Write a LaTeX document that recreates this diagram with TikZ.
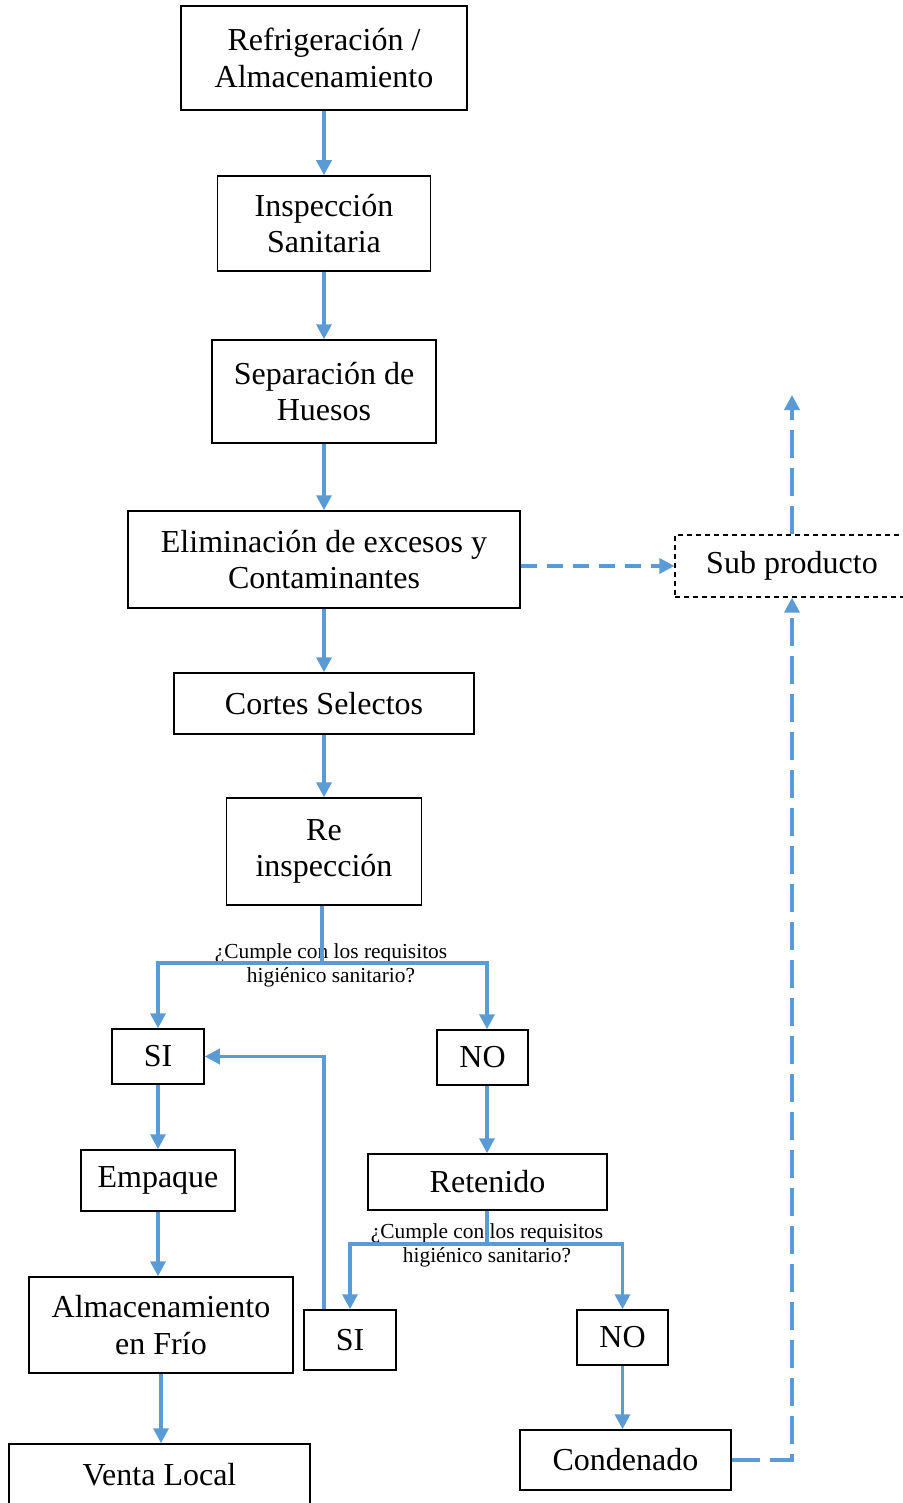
\documentclass[tikz,border=0pt]{standalone}
\usepackage{fontspec}
\setmainfont{Liberation Serif}
\usepackage{tikz}
\usetikzlibrary{arrows.meta,calc}
\definecolor{flowblue}{RGB}{91,155,213}
\tikzset{
  stagebox/.style={draw=black, line width=1.5pt, align=center, inner sep=0pt,
              font=\fontsize{32}{36.5}\selectfont},
  flow/.style={-{Triangle[length=15pt,width=15pt]}, flowblue, line width=3.5pt},
  waste/.style={flow, dash pattern=on 28pt off 10pt},
  wasteshort/.style={flow, dash pattern=on 16pt off 10pt},
  ask/.style={align=center, inner sep=0pt, font=\fontsize{21.4}{24}\selectfont},
}
\begin{document}
\begin{tikzpicture}[x=1pt, y=-1pt]
  \useasboundingbox (0,0) rectangle (902,1503);
  % main line
  \node[stagebox, minimum width=286, minimum height=104] (ref)  at (324,58)     {Refrigeración /\\Almacenamiento};
  \node[stagebox, minimum width=213, minimum height=95]  (insp) at (324,223.5)  {Inspección\\Sanitaria};
  \node[stagebox, minimum width=224, minimum height=103] (sep)  at (324,391.5)  {Separación de\\Huesos};
  \node[stagebox, minimum width=392, minimum height=97]  (elim) at (324,559.5)  {Eliminación de excesos y\\Contaminantes};
  \node[stagebox, minimum width=300, minimum height=61]  (cort) at (324,703.5)  {Cortes Selectos};
  \node[stagebox, minimum width=195, minimum height=107] (rein) at (324,851.5)  {Re\\inspección};
  % first decision
  \node[stagebox, minimum width=92, minimum height=55]   (si1)  at (158,1056.5)  {SI};
  \node[stagebox, minimum width=91, minimum height=55]   (no1)  at (482.5,1057.5) {NO};
  \node[stagebox, minimum width=154, minimum height=61]  (emp)  at (158,1180.5)  {Empaque};
  \node[stagebox, minimum width=264, minimum height=96]  (alm)  at (161,1325)    {Almacenamiento\\en Frío};
  \node[stagebox, minimum width=301, minimum height=62]  (vent) at (159.5,1475)  {Venta Local};
  \node[stagebox, minimum width=239, minimum height=56]  (ret)  at (487.5,1182)  {Retenido};
  % second decision
  \node[stagebox, minimum width=92, minimum height=60]   (si2)  at (350,1340)    {SI};
  \node[stagebox, minimum width=91, minimum height=55]   (no2)  at (622.5,1337.5) {NO};
  \node[stagebox, minimum width=211, minimum height=60]  (cond) at (625.5,1460)  {Condenado};
  \node[stagebox, line width=1.2pt, dash pattern=on 5pt off 4pt,
        minimum width=234, minimum height=62]            (sub)  at (792,566)     {Sub producto};
  \coordinate (q1) at (322,963);
  \coordinate (q2) at (487,1244);
  \coordinate (noout) at ($(no1.south)+(4.5,0)$);
  \coordinate (siback) at ($(si2.north)+(-26,0)$);
  \coordinate (out) at (792,395);
  \node[ask] (ask1) at (331,965)  {¿Cumple con los requisitos\\higiénico sanitario?};
  \node[ask] (ask2) at (487,1245) {¿Cumple con los requisitos\\higiénico sanitario?};
  % connectors
  \draw[flow] (ref) -- (insp);
  \draw[flow] (insp) -- (sep);
  \draw[flow] (sep) -- (elim);
  \draw[flow] (elim) -- (cort);
  \draw[flow] (cort) -- (rein);
  \draw[flowblue, line width=3.5pt] (rein.south -| q1) -- (q1);
  \draw[flow] (q1) -| (si1.north);
  \draw[flow] (q1) -| (noout |- no1.north);
  \draw[flow] (si1) -- (emp);
  \draw[flow] (emp.south) -- (emp.south |- alm.north);
  \draw[flow] (alm.south) -- (alm.south |- vent.north);
  \draw[flow] (noout) -- (noout |- ret.north);
  \draw[flowblue, line width=3.5pt] (ret.south -| q2) -- (q2);
  \draw[flow] (q2) -| (si2.north);
  \draw[flow] (q2) -| (no2.north);
  \draw[flow] (siback) |- (si1.east);
  \draw[flow] (no2.south) -- (no2.south |- cond.north);
  \draw[waste] (cond.east) -| (sub.south);
  \draw[wasteshort] (elim.east |- sub.west) -- (sub.west);
  \draw[waste] (sub.north) -- (out);
\end{tikzpicture}
\end{document}
